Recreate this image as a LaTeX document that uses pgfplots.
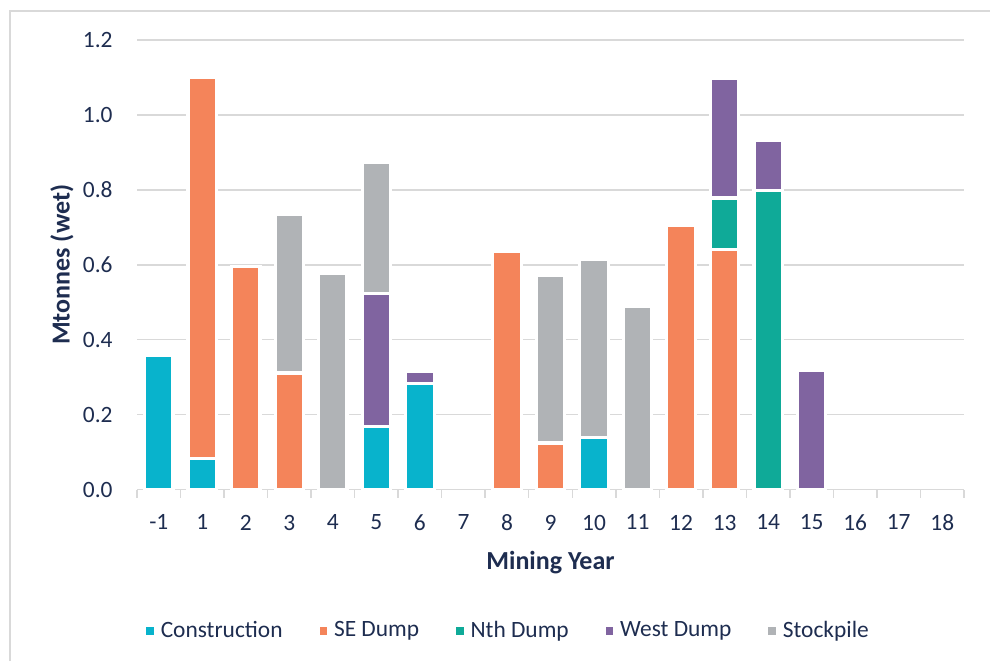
\documentclass[border=0pt]{standalone}
\usepackage{fontspec}
\setmainfont{Carlito}
\usepackage{pgfplots}
\pgfplotsset{compat=1.18}
\usepackage{pgfplotstable}
\definecolor{con}{RGB}{8,179,204}
\definecolor{se}{RGB}{244,132,90}
\definecolor{nth}{RGB}{15,170,152}
\definecolor{west}{RGB}{128,100,160}
\definecolor{stock}{RGB}{176,179,182}
\definecolor{gridgray}{RGB}{217,217,217}
\definecolor{navy}{RGB}{30,45,80}
\pgfplotstableread{
x con se nth west stock
0 0.357 0 0 0 0
1 0.083 1.016 0 0 0
2 0 0.595 0 0 0
3 0 0.311 0 0 0.424
4 0 0 0 0 0.577
5 0.168 0 0 0.356 0.349
6 0.284 0 0 0.030 0
7 0 0 0 0 0
8 0 0.635 0 0 0
9 0 0.124 0 0 0.448
10 0.138 0 0 0 0.475
11 0 0 0 0 0.489
12 0 0.706 0 0 0
13 0 0.640 0.138 0.319 0
14 0 0 0.799 0.132 0
15 0 0 0 0.319 0
16 0 0 0 0 0
17 0 0 0 0 0
18 0 0 0 0 0
}\data
\begin{document}
\begin{tikzpicture}
\path[use as bounding box] (0,0) rectangle (495pt,330.5pt);
\draw[gridgray, line width=0.75pt] (5pt,0pt) -- (5pt,325pt) -- (495pt,325pt);
\begin{axis}[
  at={(68.5pt,85.75pt)}, anchor=south west,
  scale only axis, width=413.5pt, height=224.75pt,
  ybar stacked, bar width=14.2pt,
  xmin=-0.5, xmax=18.5, ymin=0, ymax=1.2,
  xtick={0,...,18},
  xticklabels={-1,1,2,3,4,5,6,7,8,9,10,11,12,13,14,15,16,17,18},
  minor xtick={-0.5,0.5,...,18.5},
  ytick={0,0.2,0.4,0.6,0.8,1.0,1.2},
  tick align=outside,
  major tick length=0pt,
  minor tick length=4pt,
  minor x tick style={gridgray, line width=0.75pt},
  major tick style={draw=none},
  axis x line*=bottom, axis y line*=left,
  x axis line style={gridgray, line width=0.75pt, -},
  y axis line style={draw=none},
  ymajorgrids, grid style={gridgray, line width=0.75pt},
  /pgf/number format/assume math mode=true,
  yticklabel style={/pgf/number format/fixed, /pgf/number format/fixed zerofill, /pgf/number format/precision=1},
  yticklabel style={anchor=east, inner sep=0pt, xshift=-12pt, font=\fontsize{11.7}{14}\selectfont, text=navy},
  xticklabel style={anchor=north, inner sep=0pt, yshift=-12.5pt, font=\fontsize{11.7}{14}\selectfont, text=navy},
  xlabel={Mining Year},
  ylabel={Mtonnes (wet)},
  xlabel style={at={(axis description cs:0.5,0)}, anchor=center, yshift=-36.5pt, font=\bfseries\fontsize{13}{15}\selectfont, text=navy},
  ylabel style={at={(axis description cs:-0.0907,0.5)}, anchor=center, font=\bfseries\fontsize{13}{15}\selectfont, text=navy},
  every axis plot/.append style={draw=white, line width=1.6pt},
  legend columns=-1,
  legend style={at={(axis description cs:0.4505,-0.3145)}, anchor=center, draw=none, fill=none,
    font=\fontsize{11.7}{14}\selectfont, text=navy,
    /tikz/every odd column/.append style={column sep=1.5pt},
    /tikz/every even column/.append style={column sep=16.5pt}},
  legend image code/.code={\fill[#1,draw=none] (0pt,-1.85pt) rectangle (3.7pt,1.85pt);},
]
\addplot[fill=con] table[x=x,y=con]{\data};
\addplot[fill=se] table[x=x,y=se]{\data};
\addplot[fill=nth] table[x=x,y=nth]{\data};
\addplot[fill=west] table[x=x,y=west]{\data};
\addplot[fill=stock] table[x=x,y=stock]{\data};
\legend{Construction,SE Dump,Nth Dump,West Dump,Stockpile}
\draw[gridgray, line width=0.75pt] (rel axis cs:0,0) -- (rel axis cs:1,0);
\end{axis}
\end{tikzpicture}
\end{document}
